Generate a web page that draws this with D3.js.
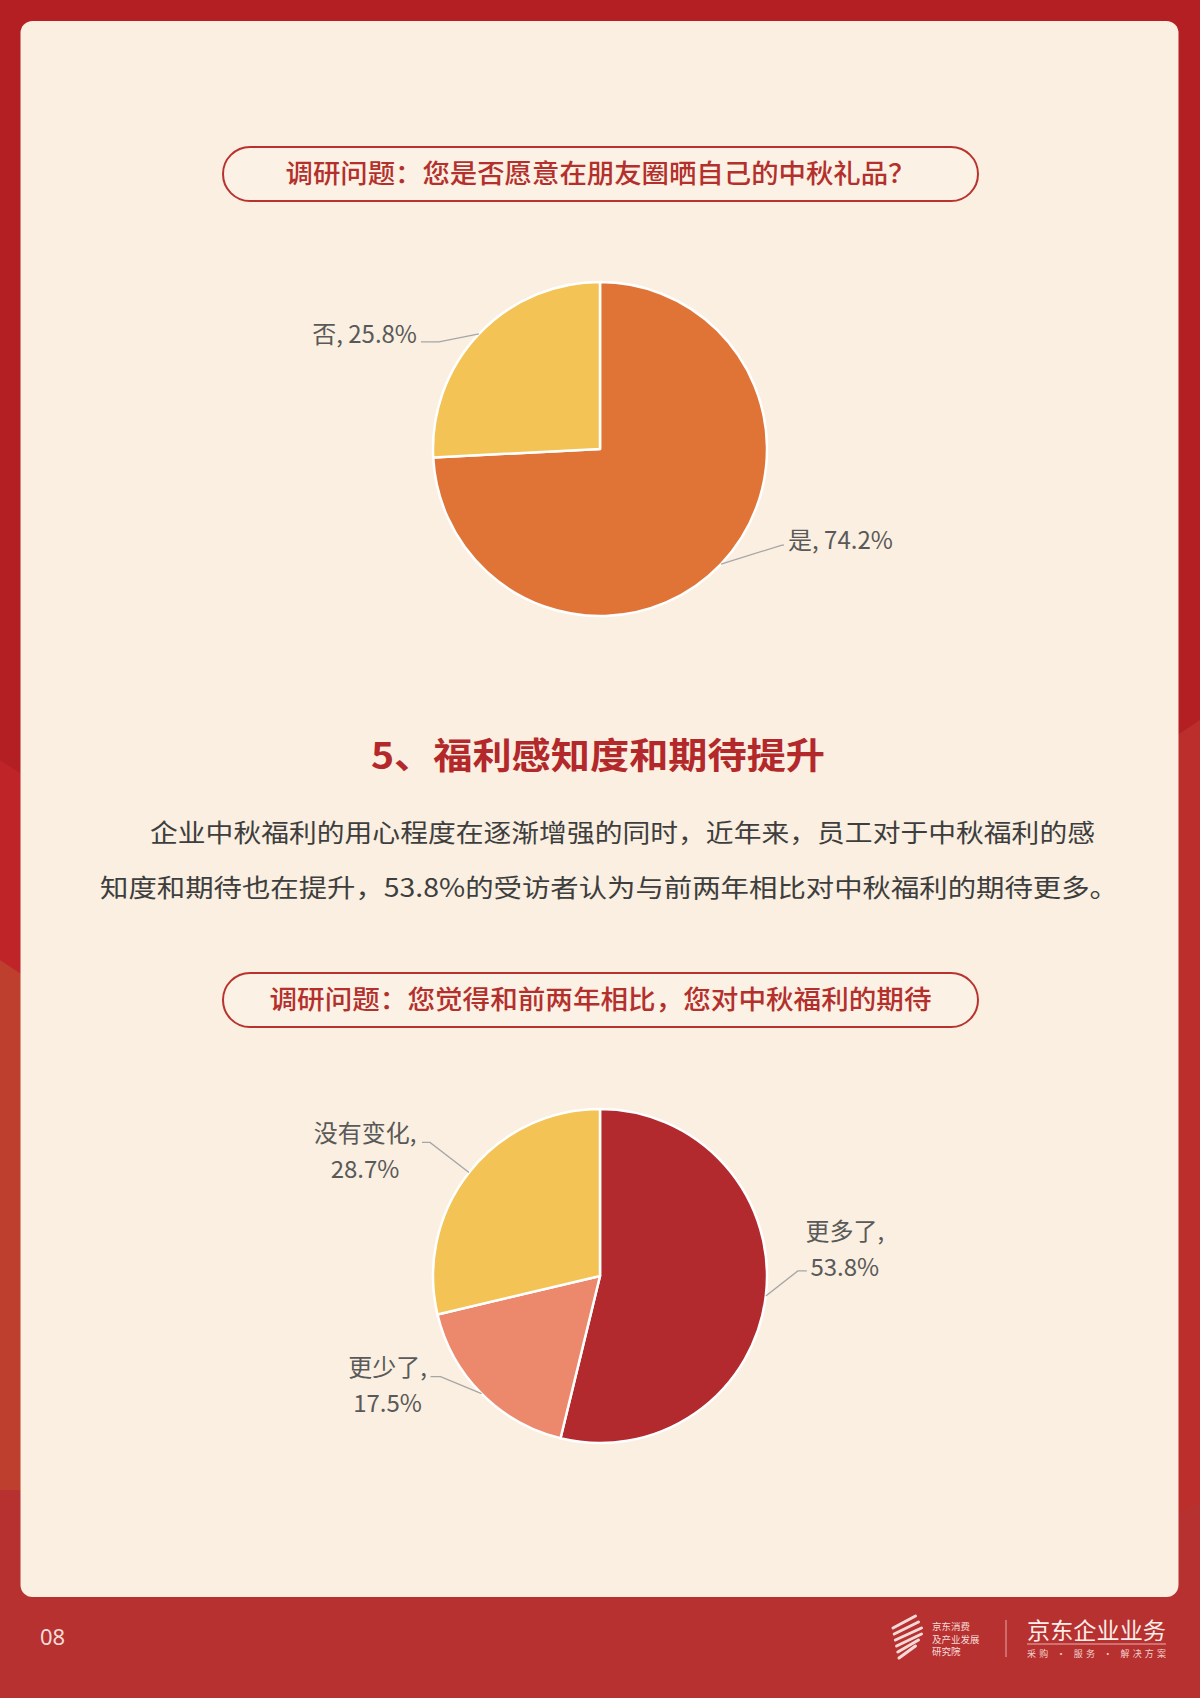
<!DOCTYPE html>
<html><head><meta charset="utf-8">
<script src="https://cdn.jsdelivr.net/npm/d3@7"></script>
<style>html,body{margin:0;padding:0;background:#B41F24;}svg{display:block;}</style>
</head><body>
<script>
// ---- data ----
const pill1Text = "调研问题：您是否愿意在朋友圈晒自己的中秋礼品？";
const pie1Labels = ["是", "否"];
const pie1Values = [74.2, 25.8];
const headingText = "5、福利感知度和期待提升";
const paraLines = ["企业中秋福利的用心程度在逐渐增强的同时，近年来，员工对于中秋福利的感",
                   "知度和期待也在提升，53.8%的受访者认为与前两年相比对中秋福利的期待更多。"];
const pill2Text = "调研问题：您觉得和前两年相比，您对中秋福利的期待";
const pie2Labels = ["更多了", "更少了", "没有变化"];
const pie2Values = [53.8, 17.5, 28.7];
const pageNo = "08";

// ---- layout ----
const W = 1200, H = 1698;
const FONT = "'Noto Sans CJK SC','Noto Sans',sans-serif";
const svg = d3.select("body").append("svg").attr("width", W).attr("height", H);

// background shading
svg.append("rect").attr("width", W).attr("height", H).attr("fill", "#B41F24");
svg.append("path").attr("d", "M0,760 L60,800 L60,1100 L0,1060 Z").attr("fill", "#BE2428");
svg.append("path").attr("d", "M0,960 L60,1000 L60,1600 L0,1560 Z").attr("fill", "#BF3F2F");
svg.append("rect").attr("x", 0).attr("y", 1490).attr("width", W).attr("height", H - 1490).attr("fill", "#B73130");
svg.append("path").attr("d", "M1140,760 L1200,720 L1200,1500 L1140,1540 Z").attr("fill", "#BC2E2C");

// card
svg.append("rect").attr("x", 20.5).attr("y", 21).attr("width", 1158).attr("height", 1576)
  .attr("rx", 12).attr("fill", "#FAEFE0");

function pill(y0, y1, x0, x1, txt, tl) {
  const h = y1 - y0;
  svg.append("rect").attr("x", x0).attr("y", y0).attr("width", x1 - x0).attr("height", h)
    .attr("rx", h / 2).attr("fill", "#FBF1E4").attr("stroke", "#B8332F").attr("stroke-width", 2);
  svg.append("text").attr("x", (x0 + x1) / 2).attr("y", (y0 + y1) / 2 + 9)
    .attr("text-anchor", "middle").attr("font-family", FONT).attr("font-size", 26)
    .attr("font-weight", 500).attr("fill", "#B3302D")
    .attr("textLength", tl).attr("lengthAdjust", "spacingAndGlyphs").text(txt);
}

pill(147, 201, 223, 978, pill1Text, 630);
pill(973, 1027, 223, 978, pill2Text, 662);

// heading
svg.append("text").attr("x", 598).attr("y", 769).attr("text-anchor", "middle")
  .attr("font-family", FONT).attr("font-size", 36).attr("font-weight", 700).attr("fill", "#B3292B")
  .attr("textLength", 454).attr("lengthAdjust", "spacingAndGlyphs").text(headingText);

// paragraph
const paraX = [150, 100], paraY = [842, 897], paraW = [945, 1018];
paraLines.forEach((t, i) => {
  svg.append("text").attr("x", paraX[i]).attr("y", paraY[i])
    .attr("font-family", FONT).attr("font-size", 25).attr("fill", "#3E3E3E")
    .attr("textLength", paraW[i]).attr("lengthAdjust", "spacingAndGlyphs").text(t);
});

// pies
const R = 167;
const arc = d3.arc().innerRadius(0).outerRadius(R);
const pieGen = d3.pie().sort(null).value(d => d.v);

function drawPie(cx, cy, labels, values, colors, labelCfg) {
  const data = labels.map((l, i) => ({ l, v: values[i] }));
  const arcs = pieGen(data);
  const g = svg.append("g").attr("transform", `translate(${cx},${cy})`);
  g.selectAll("path.slice").data(arcs).join("path").attr("class", "slice")
    .attr("d", arc).attr("fill", (d, i) => colors[i])
    .attr("stroke", "#fff").attr("stroke-width", 2.5).attr("stroke-linejoin", "round");
  arcs.forEach((a, i) => {
    const c = labelCfg[i];
    const mid = (a.startAngle + a.endAngle) / 2;
    const ex = R * Math.sin(mid), ey = -R * Math.cos(mid);
    const kx = ex + c.kink[0], ky = ey + c.kink[1];
    const tx = kx + c.tail;
    g.append("polyline").attr("points", `${ex},${ey} ${kx},${ky} ${tx},${ky}`)
      .attr("fill", "none").attr("stroke", "#A6A6A6").attr("stroke-width", 1.3);
    const pct = d3.format(".1f")(a.data.v) + "%";
    const lines = c.twoLine ? [a.data.l + ",", pct] : [a.data.l + ", " + pct];
    lines.forEach((t, j) => {
      g.append("text").attr("x", tx + c.tx).attr("y", ky + c.ty + j * 36)
        .attr("text-anchor", c.anchor).attr("font-family", FONT).attr("font-size", 24)
        .attr("fill", "#595959").text(t);
    });
  });
}

drawPie(600, 449, pie1Labels, pie1Values, ["#E07437", "#F3C355"], [
  { kink: [61, -19], tail: 2, tx: 4, ty: 4, anchor: "start", twoLine: false },
  { kink: [-40, 8], tail: -18, tx: -4, ty: 1, anchor: "end", twoLine: false }
]);

drawPie(600, 1276, pie2Labels, pie2Values, ["#B22A2E", "#EC886B", "#F3C355"], [
  { kink: [32, -25], tail: 9, tx: 38, ty: -31, anchor: "middle", twoLine: true },
  { kink: [-41, -17], tail: -10, tx: -43, ty: -1, anchor: "middle", twoLine: true },
  { kink: [-39, -30], tail: -8, tx: -57, ty: 0, anchor: "middle", twoLine: true }
]);

// footer
svg.append("text").attr("x", 40).attr("y", 1645).attr("font-family", "'Noto Sans',sans-serif")
  .attr("font-size", 22).attr("fill", "#F6DCD8").text(pageNo);

const logo = svg.append("g");
for (let k = 0; k < 6; k++) {
  logo.append("line").attr("x1", 893 + k * 1.2).attr("y1", 1628 + k * 6)
    .attr("x2", 923 - Math.abs(k - 2.5) * 3).attr("y2", 1616 + k * 6)
    .attr("stroke", "#F3DAD6").attr("stroke-width", 3).attr("stroke-linecap", "round");
}
["京东消费", "及产业发展", "研究院"].forEach((t, i) => {
  logo.append("text").attr("x", 932).attr("y", 1630 + i * 12.5).attr("font-family", FONT)
    .attr("font-size", 9.5).attr("fill", "#F6DCD8").text(t);
});
logo.append("line").attr("x1", 1006).attr("x2", 1006).attr("y1", 1620).attr("y2", 1657)
  .attr("stroke", "#E6A9A4").attr("stroke-width", 1);
logo.append("text").attr("x", 1027).attr("y", 1639).attr("font-family", FONT).attr("font-size", 23)
  .attr("fill", "#FBEDEA").attr("textLength", 139).attr("lengthAdjust", "spacingAndGlyphs").text("京东企业业务");
logo.append("line").attr("x1", 1027).attr("x2", 1166).attr("y1", 1644).attr("y2", 1644)
  .attr("stroke", "#E9B3AE").attr("stroke-width", 1);
logo.append("text").attr("x", 1027).attr("y", 1657).attr("font-family", FONT).attr("font-size", 9)
  .attr("fill", "#F3D2CE").attr("textLength", 139).attr("lengthAdjust", "spacing").text("采购 · 服务 · 解决方案");
</script>
</body></html>
